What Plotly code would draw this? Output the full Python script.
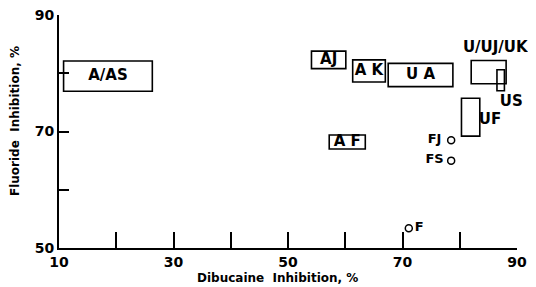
import plotly.graph_objects as go

# Rectangles: label, x0, x1, y0, y1 (Dibucaine %, Fluoride %)
box_labels = ["A/AS", "AJ", "AK", "UA", "U/UJ/UK", "US", "UF", "AF"]
box_x0 = [10.8, 54.1, 61.3, 67.5, 82.0, 86.5, 80.3, 57.2]
box_x1 = [26.3, 60.1, 67.0, 78.8, 88.1, 87.8, 83.5, 63.5]
box_y0 = [76.9, 80.8, 78.5, 77.7, 78.2, 77.0, 69.2, 67.0]
box_y1 = [82.1, 83.8, 82.3, 81.7, 82.2, 80.6, 75.7, 69.4]

# Text shown for each box and where it sits
box_text = ["A/AS", "AJ", "A K", "U A", "U/UJ/UK", "US", "UF", "A F"]
text_x = [18.55, 57.1, 64.15, 73.15, 86.2, 89.0, 85.3, 60.35]
text_y = [79.5, 82.3, 80.4, 79.7, 84.3, 75.0, 72.0, 68.2]

# Individual points (open circles)
pt_labels = ["FJ", "FS", "F"]
pt_x = [78.5, 78.5, 71.1]
pt_y = [68.5, 65.0, 53.4]
pt_text_x = [75.6, 75.6, 72.9]
pt_text_y = [68.5, 65.1, 53.4]

x_ticks = [10, 20, 30, 40, 50, 60, 70, 80, 90]
x_ticktext = ["10", "", "30", "", "50", "", "70", "", "90"]
y_ticks = [50, 60, 70, 80, 90]
y_ticktext = ["50", "", "70", "", "90"]

FONT = "DejaVu Sans"

fig = go.Figure()

shapes = []
for x0, x1, y0, y1 in zip(box_x0, box_x1, box_y0, box_y1):
    shapes.append(dict(type="rect", xref="x", yref="y", x0=x0, x1=x1, y0=y0, y1=y1,
                       line=dict(color="black", width=1.6), fillcolor="rgba(0,0,0,0)"))

fig.add_trace(go.Scatter(x=text_x, y=text_y, text=box_text, mode="text",
                         textfont=dict(family=FONT, size=15, color="black", weight="bold"),
                         cliponaxis=False, hoverinfo="skip", showlegend=False))

fig.add_trace(go.Scatter(x=pt_x, y=pt_y, mode="markers",
                         marker=dict(symbol="circle-open", size=7, color="black",
                                     line=dict(width=1.5)),
                         cliponaxis=False, showlegend=False))
fig.add_trace(go.Scatter(x=pt_text_x, y=pt_text_y, text=pt_labels, mode="text",
                         textfont=dict(family=FONT, size=13, color="black", weight="bold"),
                         cliponaxis=False, hoverinfo="skip", showlegend=False))

# page body has an 8px default margin; margins compensate so the plot area
# sits at x 59..517, y 14.5..248 in the window
fig.update_layout(
    width=536, height=287,
    margin=dict(l=51, r=27, t=6.5, b=47, autoexpand=False),
    plot_bgcolor="white", paper_bgcolor="white",
    shapes=shapes,
    xaxis=dict(range=[10, 90], tickvals=x_ticks, ticktext=x_ticktext,
               ticks="inside", ticklen=16, tickwidth=1.5, tickcolor="black",
               showline=True, linecolor="black", linewidth=2, showgrid=False,
               zeroline=False, ticklabeloverflow="allow", automargin=False,
               tickfont=dict(family=FONT, size=14, color="black", weight="bold")),
    yaxis=dict(range=[50, 90], tickvals=y_ticks, ticktext=y_ticktext,
               ticks="inside", ticklen=10, tickwidth=1.5, tickcolor="black",
               showline=True, linecolor="black", linewidth=2, showgrid=False,
               zeroline=False, ticklabeloverflow="allow", automargin=False,
               tickfont=dict(family=FONT, size=14, color="black", weight="bold")),
    annotations=[
        dict(text="Dibucaine  Inhibition, %", xref="paper", yref="paper",
             x=0.478, y=-0.128, xanchor="center", yanchor="middle", showarrow=False,
             font=dict(family=FONT, size=12, color="black", weight="bold")),
        dict(text="Fluoride  Inhibition, %", xref="paper", yref="paper",
             x=-0.096, y=0.545, xanchor="center", yanchor="middle", showarrow=False,
             textangle=-90,
             font=dict(family=FONT, size=12, color="black", weight="bold")),
    ],
)

fig.write_html("out.html")
